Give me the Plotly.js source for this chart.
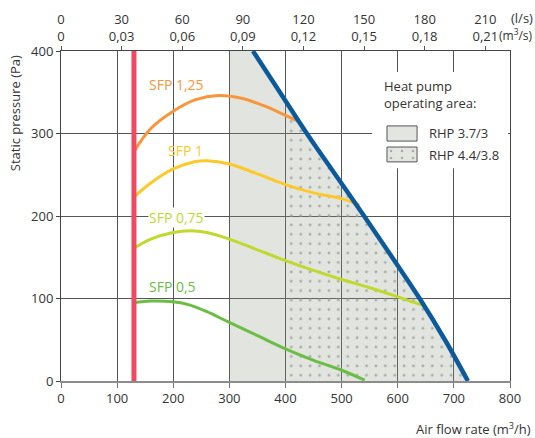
<!DOCTYPE html>
<html><head><meta charset="utf-8">
<script src="https://cdn.plot.ly/plotly-3.0.1.min.js"></script>
<style>html,body{margin:0;padding:0;background:#fff}#chart{width:535px;height:438px}</style>
</head><body><div id="chart"></div>
<script>
// ---- data ----
const xTicks = [0,100,200,300,400,500,600,700,800];
const yTicks = [0,100,200,300,400];
const lsTicks = [0,30,60,90,120,150,180,210];
const m3sLabels = ['0','0,03','0,06','0,09','0,12','0,15','0,18','0,21'];

const sfp125X = [130,160,200,240,280,320,360,400,422];
const sfp125Y = [278,306,327,341,346,343,334,322,315];
const sfp1X = [130,160,200,240,260,300,350,400,450,500,532];
const sfp1Y = [223,240,257,266,267,263,251,238,228,221,213];
const sfp075X = [130,160,200,230,260,300,350,400,450,500,550,600,643];
const sfp075Y = [161,172,180,182,180,172,159,146,134,123,113,102,92];
const sfp05X = [130,160,200,230,260,300,350,400,450,500,541];
const sfp05Y = [95,97,96,92,84,71,55,39,25,13,1];

const maxFlowX = [342,390,438,489,540,590,639,684,725];
const maxFlowY = [400,350,300,250,200,150,100,50,0];

const minFlowX = [130,130];
const minFlowY = [0,400];

const rhp37MinFlow = 300;
const rhp44MinFlow = 400;

const sfpLabels = [
  {text:'SFP 1,25', x:155, y:360, color:'#f7963b'},
  {text:'SFP 1', x:189, y:280, color:'#fdc92a'},
  {text:'SFP 0,75', x:155, y:198, color:'#c1d82f', bg:true},
  {text:'SFP 0,5', x:155, y:114, color:'#6cbd45'}
];

// ---- build regions ----
const reg37X = [rhp37MinFlow, rhp37MinFlow].concat(maxFlowX, [rhp37MinFlow]);
const reg37Y = [0, 400].concat(maxFlowY, [0]);

const reg44X = [rhp44MinFlow], reg44Y = [0];
let lastY = 0;
sfp125X.forEach((x,i)=>{ if (x>=rhp44MinFlow){ reg44X.push(x); reg44Y.push(sfp125Y[i]); lastY = sfp125Y[i]; }});
maxFlowX.forEach((x,i)=>{ if (maxFlowY[i] < lastY){ reg44X.push(x); reg44Y.push(maxFlowY[i]); }});
reg44X.push(rhp44MinFlow); reg44Y.push(0);

const FONT = 'Open Sans, Noto Sans, sans-serif';
const TXT = '#333333';
const GRID = '#555555';

const traces = [
  {x:reg37X, y:reg37Y, mode:'lines', fill:'toself', fillcolor:'rgba(139,151,127,0.25)', line:{width:0}, hoverinfo:'skip'},
  {x:reg44X, y:reg44Y, mode:'lines', fill:'toself', fillcolor:'rgba(0,0,0,0)',
   fillpattern:{shape:'.', bgcolor:'rgba(0,0,0,0)', fgcolor:'#a8aba6', size:9.4, solidity:0.07},
   line:{width:0}, hoverinfo:'skip'},
  {x:sfp125X, y:sfp125Y, mode:'lines', line:{color:'#f7963b', width:3, shape:'spline'}},
  {x:sfp1X, y:sfp1Y, mode:'lines', line:{color:'#fdc92a', width:3, shape:'spline'}},
  {x:sfp075X, y:sfp075Y, mode:'lines', line:{color:'#c1d82f', width:3, shape:'spline'}},
  {x:sfp05X, y:sfp05Y, mode:'lines', line:{color:'#6cbd45', width:3, shape:'spline'}},
  {x:maxFlowX, y:maxFlowY, mode:'lines', line:{color:'#0d5a9b', width:4.5, shape:'spline'}},
  {x:minFlowX, y:minFlowY, mode:'lines', line:{color:'#ef4a60', width:5}},
  {x:[], y:[], xaxis:'x2', mode:'lines'}
];

const annotations = sfpLabels.map(l => ({
  x:l.x, y:l.y, xref:'x', yref:'y', text:l.text, showarrow:false, xanchor:'left', yanchor:'middle',
  font:{family:FONT, size:14, color:l.color}, bgcolor: l.bg ? '#ffffff' : 'rgba(0,0,0,0)', borderpad:0
}));
annotations.push(
  {x:-0.102, y:0.812, xref:'paper', yref:'paper', text:'Static pressure (Pa)', textangle:-90, showarrow:false,
   xanchor:'center', yanchor:'middle', font:{family:FONT, size:13, color:TXT}},
  {x:1.051, y:-0.145, xref:'paper', yref:'paper', text:'Air flow rate (m<sup>3</sup>/h)', showarrow:false,
   xanchor:'right', yanchor:'middle', font:{family:FONT, size:13, color:TXT}},
  {x:0.998, y:1.1, xref:'paper', yref:'paper', text:'(l/s)', showarrow:false, xanchor:'left', yanchor:'middle',
   font:{family:FONT, size:13, color:TXT}},
  {x:0.972, y:1.047, xref:'paper', yref:'paper', text:'(m<sup>3</sup>/s)', showarrow:false, xanchor:'left', yanchor:'middle',
   font:{family:FONT, size:12, color:TXT}},
  {x:0.715, y:0.868, xref:'paper', yref:'paper', text:'Heat pump<br>operating area:', showarrow:false, align:'left',
   xanchor:'left', yanchor:'middle', font:{family:FONT, size:13, color:TXT}},
  {x:0.815, y:0.7515, xref:'paper', yref:'paper', text:'RHP 3.7/3', showarrow:false,
   xanchor:'left', yanchor:'middle', font:{family:FONT, size:13, color:TXT}},
  {x:0.815, y:0.685, xref:'paper', yref:'paper', text:'RHP 4.4/3.8', showarrow:false,
   xanchor:'left', yanchor:'middle', font:{family:FONT, size:13, color:TXT}}
);

const shapes = [
  {type:'rect', xref:'paper', yref:'paper', x0:0.693, x1:0.9955, y0:0.645, y1:0.936, fillcolor:'#ffffff', line:{width:0}, layer:'above'},
  {type:'rect', xref:'paper', yref:'paper', x0:0.726, x1:0.793, y0:0.727, y1:0.773, fillcolor:'#e2e5e0', line:{color:'#555', width:1}, layer:'above'},
  {type:'rect', xref:'paper', yref:'paper', x0:0.726, x1:0.793, y0:0.664, y1:0.709, fillcolor:'#e2e5e0', line:{color:'#555', width:1}, layer:'above'}
];
[0.735,0.7595,0.784].forEach(cx => [0.697,0.676].forEach(cy => {
  shapes.push({type:'circle', xref:'paper', yref:'paper', x0:cx-0.0028, x1:cx+0.0028, y0:cy-0.0038, y1:cy+0.0038,
    fillcolor:'#a8aba6', line:{width:0}, layer:'above'});
}));

const layout = {
  width:535, height:438,
  margin:{l:61, r:25, t:51, b:57},
  paper_bgcolor:'#fff', plot_bgcolor:'#fff',
  showlegend:false,
  font:{family:FONT, size:13, color:TXT},
  xaxis:{range:[0,800], tickvals:xTicks, ticks:'outside', ticklen:5, tickcolor:'#777', tickwidth:1,
    showgrid:true, gridcolor:GRID, gridwidth:1, showline:true, linecolor:'#8c8c8c', linewidth:1.5,
    zeroline:false, tickfont:{family:FONT, size:13, color:TXT}, fixedrange:true},
  xaxis2:{range:[0,800/3.6], overlaying:'x', side:'top', anchor:'y', tickvals:lsTicks,
    ticktext:lsTicks.map((v,i)=> v + '<br>' + m3sLabels[i]), ticks:'outside', ticklen:4, tickcolor:'#555',
    showgrid:false, showline:true, linecolor:'#444', linewidth:1, zeroline:false,
    tickfont:{family:FONT, size:13, color:TXT}, fixedrange:true},
  yaxis:{range:[0,400], tickvals:yTicks, ticks:'outside', ticklen:4, tickcolor:'#444',
    showgrid:true, gridcolor:GRID, gridwidth:1, showline:true, mirror:true, linecolor:'#444', linewidth:1,
    zeroline:false, tickfont:{family:FONT, size:13, color:TXT}, fixedrange:true},
  annotations: annotations,
  shapes: shapes
};

Plotly.newPlot('chart', traces, layout, {displayModeBar:false, staticPlot:true});
</script></body></html>
